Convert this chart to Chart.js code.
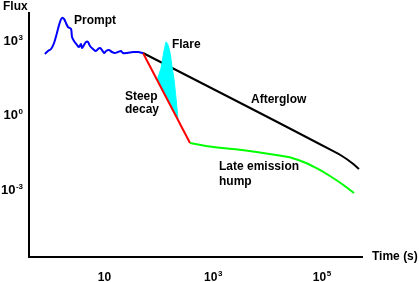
<!DOCTYPE html>
<html>
<head>
<meta charset="utf-8">
<script src="https://cdn.jsdelivr.net/npm/chart.js@4.4.1/dist/chart.umd.min.js"></script>
<style>
  html, body { margin: 0; padding: 0; background: #fff; }
</style>
</head>
<body>
<canvas id="grb" width="419" height="282"></canvas>
<script>
// canonical GRB light curve sketch (time in s, flux arbitrary)
const promptT = [0.84, 0.96, 1.09, 1.24, 1.40, 1.59, 1.73, 1.89, 2.05, 2.23, 2.54, 2.65, 2.88, 3.27, 3.56, 3.87, 4.04, 4.40, 4.79, 5.21,
                 5.67, 6.44, 7.31, 7.96, 8.66, 9.42, 10.3, 11.2, 12.7, 14.4, 16.3, 18.5, 21.1, 22.9, 27.2, 35.0, 43.3, 53.5];
const promptF = [302, 399, 480, 838, 2120, 5890, 8540, 7780, 5370, 3700, 3080, 1460, 1010, 697, 578, 764, 527, 697, 920, 920,
                 634, 480, 399, 480, 527, 437, 331, 399, 437, 363, 331, 363, 399, 331, 331, 363, 363, 331];

const afterglowT = [53.5, 146000, 243000, 371000, 500000];
const afterglowF = [331, 0.0426, 0.0233, 0.0122, 0.00697];

const steepT = [53.5, 391];
const steepF = [331, 0.0778];

const flareT = [97, 115, 125, 136, 142, 154, 168, 182, 199, 216, 235];
const flareF = [27, 82, 251, 634, 920, 697, 331, 99, 27, 5.1, 0.72];

const humpT = [391, 912, 3530, 14900, 29300, 53000, 88100, 146000, 243000, 404000];
const humpF = [0.0778, 0.0562, 0.0406, 0.0255, 0.0193, 0.0122, 0.00697, 0.00363, 0.00173, 0.00075];

const xTicks = [10, 1e3, 1e5];
const yTicks = [1e3, 1, 1e-3];

// text labels, anchored at (time, flux)
const notes = [
    { text: 'Prompt', t: 2.88, f: 4900 },
    { text: 'Flare', t: 182, f: 527 },
    { text: 'Steep', t: 24.9, f: 4.22 },
    { text: 'decay', t: 24.9, f: 1.26 },
    { text: 'Afterglow', t: 5170, f: 3.19 },
    { text: 'Late emission', t: 1334, f: 0.00634 },
    { text: 'hump', t: 1334, f: 0.00158 }
];

const FAMILY = '"Liberation Sans", Arial, Helvetica, sans-serif';
const BIG = 'bold 12px ' + FAMILY;
const SMALL = 'bold 8px ' + FAMILY;

function pts(ts, fs) {
    return ts.map((t, i) => ({ x: t, y: fs[i] }));
}

// "10" with the exponent as a raised small number
function drawPow(ctx, v, px, base, align, size, gap) {
    const e = Math.round(Math.log10(v));
    const sup = e === 1 ? '' : String(e);
    const big = 'bold ' + size + 'px ' + FAMILY;
    ctx.font = big;
    const w1 = ctx.measureText('10').width;
    ctx.font = SMALL;
    const w2 = sup ? ctx.measureText(sup).width + gap : 0;
    const left = align === 'center' ? px - (w1 + w2) / 2 : px - (w1 + w2);
    ctx.textAlign = 'left';
    ctx.font = big;
    ctx.fillText('10', left, base);
    if (sup) {
        ctx.font = SMALL;
        ctx.fillText(sup, left + w1 + gap, base - 5);
    }
}

const textPlugin = {
    id: 'texts',
    afterDraw(chart) {
        const { ctx, chartArea: a, scales: { x, y } } = chart;
        ctx.save();
        ctx.fillStyle = '#000';
        ctx.textBaseline = 'alphabetic';
        ctx.textAlign = 'left';
        ctx.font = BIG;
        notes.forEach(n => ctx.fillText(n.text, x.getPixelForValue(n.t), y.getPixelForValue(n.f)));
        ctx.fillText('Flux', a.left - 26, a.top - 3);
        ctx.fillText('Time (s)', a.right + 10, a.bottom + 3);
        x.ticks.forEach(tk => drawPow(ctx, tk.value, x.getPixelForValue(tk.value) + 1, a.bottom + 24, 'center', 12, 0.5));
        y.ticks.forEach(tk => drawPow(ctx, tk.value, a.left - 6, y.getPixelForValue(tk.value) + 4, 'right', 13, 0.5));
        ctx.restore();
    }
};

function axis(min, max, ticks, fit) {
    return {
        type: 'logarithmic',
        min: min,
        max: max,
        bounds: 'data',
        grid: { display: false, drawTicks: false },
        border: { display: true, color: '#000', width: 2 },
        ticks: { display: false },
        afterBuildTicks: s => { s.ticks = ticks.map(v => ({ value: v })); },
        afterFit: fit
    };
}

new Chart('grb', {
    type: 'line',
    data: {
        datasets: [{
            label: 'Prompt',
            data: pts(promptT, promptF),
            borderColor: '#0000ff',
            borderWidth: 2,
            tension: 0.3,
            order: 1
        }, {
            label: 'Afterglow',
            data: pts(afterglowT, afterglowF),
            borderColor: '#000',
            borderWidth: 2,
            cubicInterpolationMode: 'monotone',
            order: 4
        }, {
            label: 'Steep decay',
            data: pts(steepT, steepF),
            borderColor: '#ff0000',
            borderWidth: 2,
            order: 2
        }, {
            label: 'Flare',
            data: pts(flareT, flareF),
            borderColor: '#00ffff',
            backgroundColor: '#00ffff',
            borderWidth: 1,
            tension: 0.3,
            fill: 2,
            order: 3
        }, {
            label: 'Late emission hump',
            data: pts(humpT, humpF),
            borderColor: '#00ff00',
            borderWidth: 2,
            cubicInterpolationMode: 'monotone',
            order: 1
        }]
    },
    options: {
        responsive: false,
        animation: false,
        layout: { padding: { top: 13, right: 57, left: 0, bottom: 0 } },
        elements: { point: { radius: 0 } },
        plugins: { legend: { display: false }, tooltip: { enabled: false } },
        scales: {
            x: axis(0.429, 567000, xTicks, s => { s.height = 25; }),
            y: axis(1.97e-6, 13580, yTicks, s => { s.width = 29; })
        }
    },
    plugins: [textPlugin]
});
</script>
</body>
</html>
